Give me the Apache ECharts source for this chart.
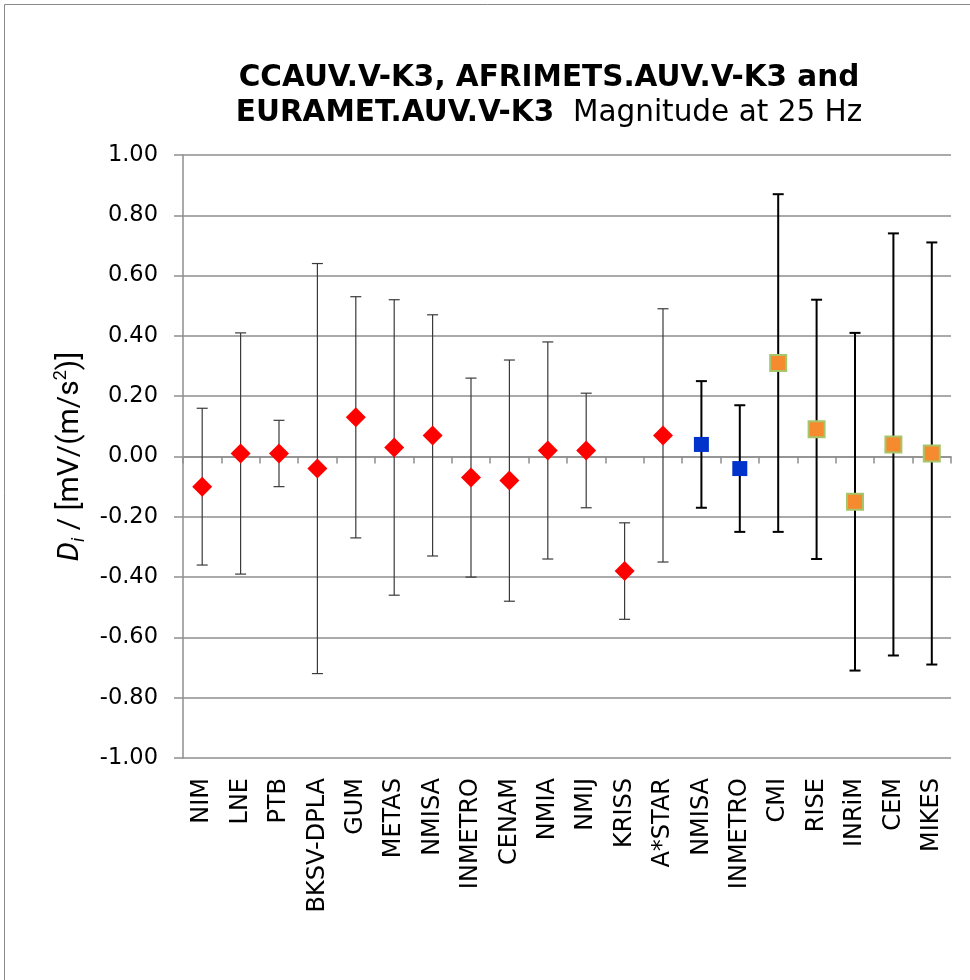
<!DOCTYPE html>
<html>
<head>
<meta charset="utf-8">
<script src="https://cdn.jsdelivr.net/npm/echarts@6/dist/echarts.min.js"></script>
<style>
html,body{margin:0;padding:0;background:#fff;}
#chart{width:970px;height:980px;}
</style>
</head>
<body>
<div id="chart"></div>
<script>
// Categories (x axis)
const categories = ['NIM','LNE','PTB','BKSV-DPLA','GUM','METAS','NMISA','INMETRO','CENAM','NMIA','NMIJ','KRISS','A*STAR','NMISA','INMETRO','CMI','RISE','INRiM','CEM','MIKES'];

// CCAUV.V-K3 participants (red diamonds), categories 0..12
const ccauvValues = [-0.10, 0.01, 0.01, -0.04, 0.13, 0.03, 0.07, -0.07, -0.08, 0.02, 0.02, -0.38, 0.07];
const ccauvLower  = [-0.36, -0.39, -0.10, -0.72, -0.27, -0.46, -0.33, -0.40, -0.48, -0.34, -0.17, -0.54, -0.35];
const ccauvUpper  = [0.16, 0.41, 0.12, 0.64, 0.53, 0.52, 0.47, 0.26, 0.32, 0.38, 0.21, -0.22, 0.49];

// AFRIMETS.AUV.V-K3 participants (blue squares), categories 13..14
const afrimetsValues = [0.04, -0.04];
const afrimetsLower  = [-0.17, -0.25];
const afrimetsUpper  = [0.25, 0.17];

// EURAMET.AUV.V-K3 participants (orange squares), categories 15..19
const eurametValues = [0.31, 0.09, -0.15, 0.04, 0.01];
const eurametLower  = [-0.25, -0.34, -0.71, -0.66, -0.69];
const eurametUpper  = [0.87, 0.52, 0.41, 0.74, 0.71];

// Y axis ticks
const yMin = -1, yMax = 1, yStep = 0.2;

const ccauvStart = 0, afrimetsStart = 13, eurametStart = 15;

function pts(vals, start) { return vals.map((v, i) => [start + i, v]); }
function errs(lo, hi, start) { return lo.map((l, i) => [start + i, l, hi[i]]); }

function errRenderer(color, width, capHalf) {
  return function (params, api) {
    const x = api.value(0);
    const pLo = api.coord([x, api.value(1)]);
    const pHi = api.coord([x, api.value(2)]);
    const st = { stroke: color, lineWidth: width };
    return {
      type: 'group',
      children: [
        { type: 'line', shape: { x1: pHi[0], y1: pHi[1], x2: pLo[0], y2: pLo[1] }, style: st },
        { type: 'line', shape: { x1: pHi[0] - capHalf, y1: pHi[1], x2: pHi[0] + capHalf, y2: pHi[1] }, style: st },
        { type: 'line', shape: { x1: pLo[0] - capHalf, y1: pLo[1], x2: pLo[0] + capHalf, y2: pLo[1] }, style: st }
      ]
    };
  };
}

const chart = echarts.init(document.getElementById('chart'), null, { renderer: 'canvas' });
const gridColor = '#8e8e8e';

const option = {
  animation: false,
  backgroundColor: '#ffffff',
  grid: { left: 183, right: 19, top: 155, bottom: 222, containLabel: false },
  graphic: [
    { type: 'rect', shape: { x: 4.5, y: 4.5, width: 1000, height: 1000 }, style: { fill: 'none', stroke: '#8a8a8a', lineWidth: 1 }, silent: true, z: -10 },
    {
      type: 'text', x: 549, y: 61, silent: true,
      style: {
        text: '{b|CCAUV.V-K3, AFRIMETS.AUV.V-K3 and}\n{b|EURAMET.AUV.V-K3}{n|  Magnitude at 25 Hz}',
        align: 'center', verticalAlign: 'top',
        rich: {
          b: { fontFamily: 'DejaVu Sans', fontWeight: 'bold', fontSize: 29.5, lineHeight: 35, fill: '#000' },
          n: { fontFamily: 'DejaVu Sans', fontWeight: 'normal', fontSize: 29.5, lineHeight: 35, fill: '#000' }
        }
      }
    }
  ],
  xAxis: [
    {
      type: 'category', data: categories, position: 'bottom', boundaryGap: true,
      axisLine: { show: false, onZero: false },
      axisTick: { show: false },
      splitLine: { show: false },
      axisLabel: { interval: 0, rotate: 90, margin: 20, fontFamily: 'DejaVu Sans', fontSize: 24, color: '#000' }
    },
    {
      type: 'category', data: categories, position: 'bottom', boundaryGap: true,
      axisLine: { show: true, onZero: true, lineStyle: { color: gridColor, width: 1.5 } },
      axisTick: { show: true, interval: 0, length: 7, lineStyle: { color: gridColor, width: 1.5 } },
      splitLine: { show: false },
      axisLabel: { show: false }
    }
  ],
  yAxis: {
    type: 'value', min: yMin, max: yMax, interval: yStep,
    axisLine: { show: true, onZero: false, lineStyle: { color: gridColor, width: 1.5 } },
    axisTick: { show: true, length: 9, lineStyle: { color: gridColor, width: 1.5 } },
    splitLine: { show: true, lineStyle: { color: gridColor, width: 1.5 } },
    axisLabel: { margin: 25, fontFamily: 'DejaVu Sans', fontSize: 22.5, color: '#000', formatter: v => v.toFixed(2) },
    name: '{d|D}{s|i}{n| / [mV/(m/s}{p|2}{n|)]}',
    nameLocation: 'middle', nameGap: 88, nameRotate: 90,
    nameTextStyle: {
      rich: {
        d: { fontFamily: 'Roboto', fontStyle: 'italic', fontSize: 30, lineHeight: 36, color: '#000' },
        s: { fontFamily: 'Roboto', fontStyle: 'italic', fontSize: 18, lineHeight: 18, verticalAlign: 'bottom', color: '#000' },
        n: { fontFamily: 'Roboto', fontSize: 30, lineHeight: 36, color: '#000' },
        p: { fontFamily: 'Roboto', fontSize: 18, lineHeight: 18, verticalAlign: 'top', color: '#000' }
      }
    }
  },
  series: [
    {
      type: 'custom', name: 'ccauvErr', xAxisIndex: 0, z: 2,
      renderItem: errRenderer('#3a3a3a', 1.2, 5.5),
      data: errs(ccauvLower, ccauvUpper, ccauvStart)
    },
    {
      type: 'custom', name: 'afrimetsErr', xAxisIndex: 0, z: 2,
      renderItem: errRenderer('#000000', 2, 5.5),
      data: errs(afrimetsLower, afrimetsUpper, afrimetsStart)
    },
    {
      type: 'custom', name: 'eurametErr', xAxisIndex: 0, z: 2,
      renderItem: errRenderer('#000000', 2, 5.5),
      data: errs(eurametLower, eurametUpper, eurametStart)
    },
    {
      type: 'scatter', name: 'CCAUV.V-K3', xAxisIndex: 0, z: 5,
      symbol: 'diamond', symbolSize: 20,
      itemStyle: { color: '#ff0000', opacity: 1 },
      data: pts(ccauvValues, ccauvStart)
    },
    {
      type: 'scatter', name: 'AFRIMETS.AUV.V-K3', xAxisIndex: 0, z: 5,
      symbol: 'rect', symbolSize: 15,
      itemStyle: { color: '#0033cc', opacity: 1 },
      data: pts(afrimetsValues, afrimetsStart)
    },
    {
      type: 'scatter', name: 'EURAMET.AUV.V-K3', xAxisIndex: 0, z: 5,
      symbol: 'rect', symbolSize: 16,
      itemStyle: { color: '#f58a2e', borderColor: '#a5c66a', borderWidth: 2, opacity: 1 },
      data: pts(eurametValues, eurametStart)
    }
  ]
};
chart.setOption(option);
</script>
</body>
</html>
